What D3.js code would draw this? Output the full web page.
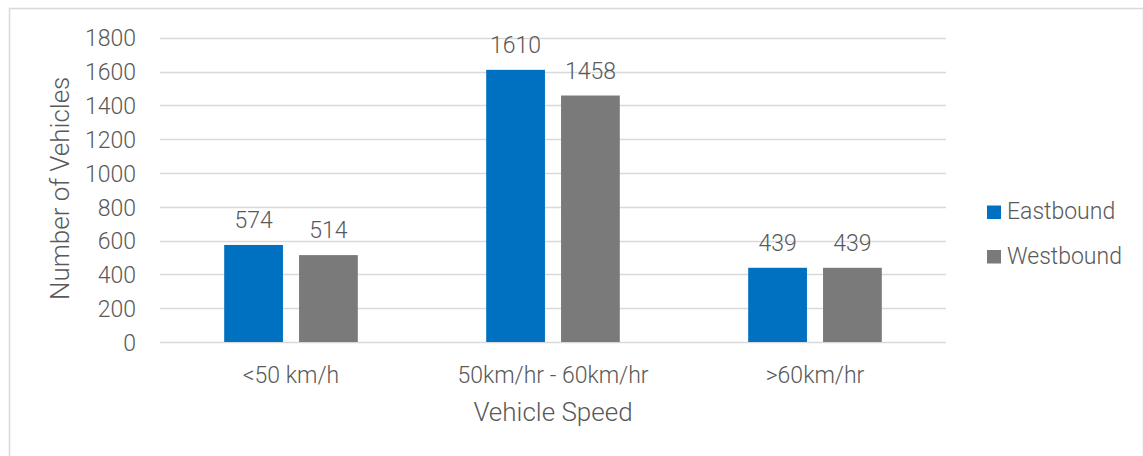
<!DOCTYPE html>
<html>
<head>
<meta charset="utf-8">
<script src="https://cdn.jsdelivr.net/npm/d3@7"></script>
<style>
  html, body { margin: 0; padding: 0; background: #fff; }
  svg { display: block; }
  text { font-family: Roboto, "Liberation Sans", Arial, sans-serif; font-weight: 300; fill: #595959; }
</style>
</head>
<body>
<svg id="chart" width="1143" height="456"></svg>
<script>
// Vehicle counts by speed band and direction
const categories = ["<50 km/h", "50km/hr - 60km/hr", ">60km/hr"];
const seriesNames = ["Eastbound", "Westbound"];
const eastbound = [574, 1610, 439];
const westbound = [514, 1458, 439];
const yTicks = [0, 200, 400, 600, 800, 1000, 1200, 1400, 1600, 1800];
const colors = ["#0070C0", "#7A7A7A"];

const svg = d3.select("#chart");
const W = 1143, H = 456;
const FS = 23;
const TITLE_FS = 26;

// outer frame
svg.append("rect")
  .attr("x", 9.5).attr("y", 8.5)
  .attr("width", W - 9).attr("height", H)
  .attr("fill", "none").attr("stroke", "#D9D9D9").attr("stroke-width", 1.5);

const plot = { left: 160, right: 946, top: 37.7, bottom: 342 };

const y = d3.scaleLinear().domain([0, 1800]).range([plot.bottom, plot.top]);
const x0 = d3.scaleBand().domain(categories).range([plot.left, plot.right])
  .paddingInner(0.49).paddingOuter(0.245);
const x1 = d3.scaleBand().domain(seriesNames).range([0, x0.bandwidth()]).paddingInner(0.215);

// horizontal gridlines
svg.append("g").selectAll("line").data(yTicks).join("line")
  .attr("x1", plot.left).attr("x2", plot.right)
  .attr("y1", d => Math.round(y(d)) + 0.5).attr("y2", d => Math.round(y(d)) + 0.5)
  .attr("stroke", "#D9D9D9").attr("stroke-width", 1.3);

// y axis labels
const yAxis = d3.axisLeft(y).tickValues(yTicks).tickFormat(d3.format("d")).tickSize(0).tickPadding(0);
const gy = svg.append("g").attr("transform", `translate(136,0)`).call(yAxis);
gy.select(".domain").remove();
gy.selectAll("text").attr("font-size", FS).attr("fill", "#595959")
  .attr("font-family", null).attr("dy", "0.36em");

// x axis labels
const xAxis = d3.axisBottom(x0).tickSize(0).tickPadding(0);
const gx = svg.append("g").call(xAxis);
gx.select(".domain").remove();
gx.selectAll("text").attr("font-size", FS).attr("fill", "#595959")
  .attr("font-family", null).attr("y", 383).attr("dy", null);

// bars
const rows = categories.map((c, i) => ({ cat: c, vals: [eastbound[i], westbound[i]] }));
const groups = svg.append("g").selectAll("g").data(rows).join("g")
  .attr("transform", d => `translate(${x0(d.cat)},0)`);

groups.selectAll("rect").data(d => d.vals.map((v, j) => ({ s: seriesNames[j], v, j })))
  .join("rect")
  .attr("x", d => x1(d.s))
  .attr("width", x1.bandwidth())
  .attr("y", d => y(d.v))
  .attr("height", d => y(0) - y(d.v))
  .attr("fill", d => colors[d.j]);

// value labels
groups.selectAll("text.val").data(d => d.vals.map((v, j) => ({ s: seriesNames[j], v, j })))
  .join("text").attr("class", "val")
  .attr("x", d => x1(d.s) + x1.bandwidth() / 2)
  .attr("y", d => y(d.v) - 17)
  .attr("text-anchor", "middle")
  .attr("font-size", FS)
  .text(d => d.v);

// axis titles
svg.append("text")
  .attr("x", (plot.left + plot.right) / 2).attr("y", 421)
  .attr("text-anchor", "middle").attr("font-size", TITLE_FS)
  .text("Vehicle Speed");

svg.append("text")
  .attr("transform", `translate(69,${(plot.top + plot.bottom) / 2 - 1.5}) rotate(-90)`)
  .attr("text-anchor", "middle").attr("font-size", TITLE_FS)
  .text("Number of Vehicles");

// legend
const legend = svg.append("g").selectAll("g").data(seriesNames).join("g")
  .attr("transform", (d, i) => `translate(987,${205.5 + i * 44.5})`);
legend.append("rect").attr("width", 14).attr("height", 13.5)
  .attr("fill", (d, i) => colors[i]);
legend.append("text").attr("x", 20).attr("y", 13.5).attr("font-size", FS)
  .text(d => d);
</script>
</body>
</html>
